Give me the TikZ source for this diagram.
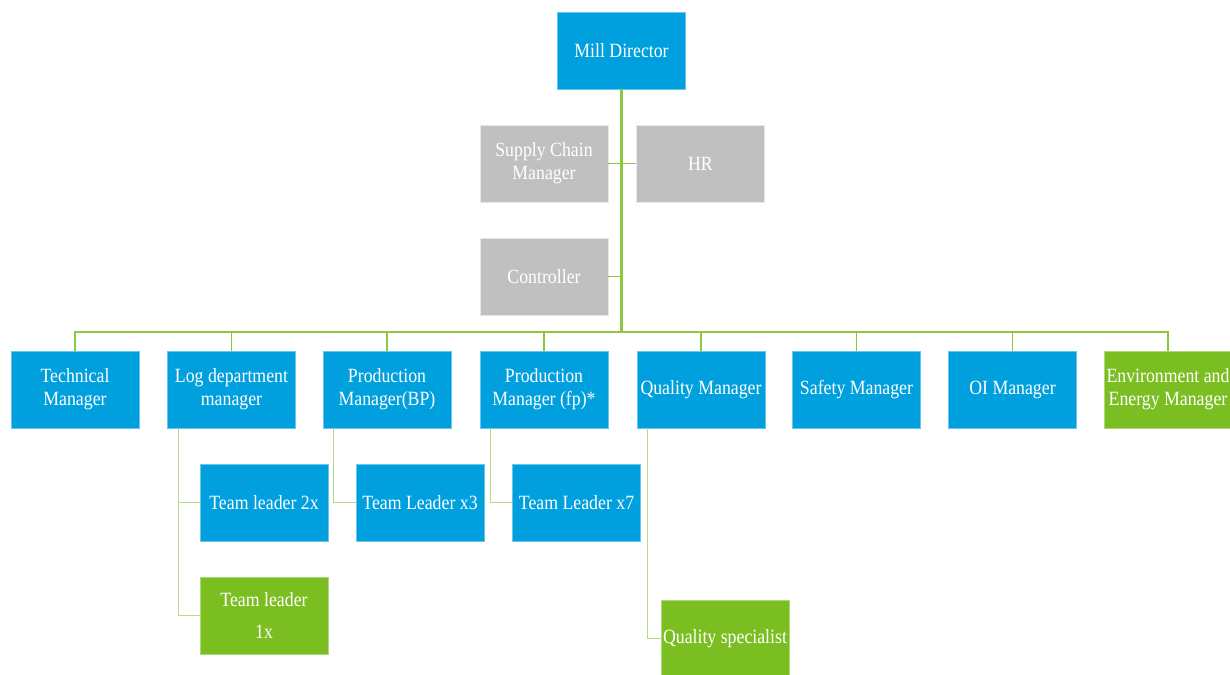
\documentclass[tikz,border=0pt]{standalone}
\usepackage{fontspec}
\setmainfont{Liberation Serif}[FakeStretch=0.88]
\usepackage{tikz}
\definecolor{orgblue}{RGB}{0,160,222}
\definecolor{orggrey}{RGB}{192,192,192}
\definecolor{orggreen}{RGB}{122,190,34}
\colorlet{trunkgreen}{orggreen!85!white}
\colorlet{subgreen}{orggreen!55!white}

\begin{document}
\begin{tikzpicture}[
            x=0.2mm, y=-0.2mm,
            every node/.append style={text=white, font=\fontsize{11.5}{13}\selectfont},
            orgbox/.style={rectangle, minimum width=2.56cm, minimum height=1.54cm,
                inner sep=1pt, align=center, line width=0.5pt},
            bluebox/.style={orgbox, fill=orgblue, draw=orgblue!60!white},
            greybox/.style={orgbox, fill=orggrey, draw=orggrey!40!white},
            greenbox/.style={orgbox, fill=orggreen, draw=orggreen!60!white},
            trunk/.style={draw=trunkgreen, line width=1.8pt},
            busline/.style={draw=trunkgreen, line width=1.1pt},
            subline/.style={draw=subgreen, line width=0.6pt}
        ]
            \useasboundingbox (0,0) rectangle (1230,675);
            \node [bluebox] (md) at (621.5,50.5) {Mill Director};
            \node [greybox] (scm) at (544,163.5) {Supply Chain\\Manager};
            \node [greybox] (hr) at (700.5,163.5) {HR};
            \node [greybox] (ctrl) at (544,276.5) {Controller};
            \coordinate (bus) at (621.5,332);

            \node [bluebox] (tech) at (75,389.5) {Technical\\Manager};
            \node [bluebox] (log) at (231.5,389.5) {Log department\\manager};
            \node [bluebox] (pbp) at (387,389.5) {Production\\Manager(BP)};
            \node [bluebox] (pfp) at (544,389.5) {Production\\Manager (fp)*};
            \node [bluebox] (qm) at (701,389.5) {Quality Manager};
            \node [bluebox] (sm) at (856.5,389.5) {Safety Manager};
            \node [bluebox] (oi) at (1012.5,389.5) {OI Manager};
            \node [greenbox] (env) at (1168,389.5) {Environment and\\Energy Manager};

            \node [bluebox] (tl2) at (264,502.5) {Team leader 2x};
            \node [greenbox] (tl1) at (264,615.5) {Team leader\\[5pt]1x};
            \node [bluebox] (tl3) at (420,502.5) {Team Leader x3};
            \node [bluebox] (tl7) at (576.5,502.5) {Team Leader x7};
            \node [greenbox] (qs) at (725,638.5) {Quality specialist};

            \draw [trunk] (md.south) -- (bus);
            \draw [busline] (scm.east) -- (hr.west);
            \draw [busline] (ctrl.east) -- (ctrl.east -| md.south);
            \foreach \boss in {tech,log,pbp,pfp,qm,sm,oi,env}
                \draw [busline] (bus) -| (\boss.north);

            \draw [subline] (log.south west) ++(11,0) |- (tl2.west);
            \draw [subline] (log.south west) ++(11,0) |- (tl1.west);
            \draw [subline] (pbp.south west) ++(11,0) |- (tl3.west);
            \draw [subline] (pfp.south west) ++(11,0) |- (tl7.west);
            \draw [subline] (qm.south west) ++(11,0) |- (qs.west);
        \end{tikzpicture}
\end{document}
